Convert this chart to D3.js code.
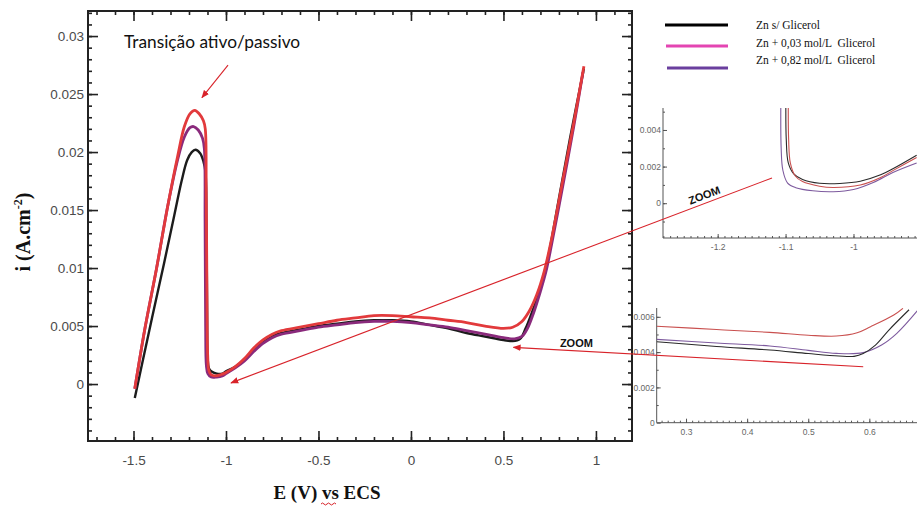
<!DOCTYPE html>
<html>
<head>
<meta charset="utf-8">
<script src="https://cdn.jsdelivr.net/npm/d3@7"></script>
<style>
  body { margin: 0; background: #fff; }
  svg { display: block; }
</style>
</head>
<body>
<svg width="917" height="506"></svg>
<script>
// --- data: [E (V), i (A/cm2)]
const semGlicerol = [[-1.493,-0.0012],[-1.45,0.0020],[-1.40,0.0057],[-1.335,0.0104],[-1.28,0.0145],[-1.24,0.0175],[-1.21,0.0193],[-1.185,0.0200],[-1.165,0.0202],[-1.14,0.0199],[-1.122,0.0192],[-1.111,0.0183],[-1.106,0.0140],[-1.102,0.0060],[-1.099,0.0022],[-1.093,0.0014],[-1.08,0.0011],[-1.05,0.0009],[-1.02,0.0009],[-1.0,0.0011],[-0.95,0.0015],[-0.9,0.0021],[-0.85,0.0029],[-0.8,0.0036],[-0.75,0.0041],[-0.7,0.0044],[-0.6,0.0047],[-0.5,0.0050],[-0.4,0.0052],[-0.3,0.0054],[-0.2,0.0055],[-0.1,0.0055],[0,0.0054],[0.1,0.0051],[0.2,0.0048],[0.3,0.0044],[0.4,0.0041],[0.5,0.0038],[0.55,0.0037],[0.59,0.0039],[0.62,0.0048],[0.65,0.0060],[0.69,0.0078],[0.72,0.0095],[0.745,0.0112],[0.80,0.0160],[0.86,0.0212],[0.935,0.0272]];
const glicerol003 = [[-1.493,-0.0004],[-1.438,0.0048],[-1.375,0.0100],[-1.319,0.0150],[-1.262,0.0196],[-1.225,0.0222],[-1.195,0.0233],[-1.168,0.0236],[-1.145,0.0233],[-1.122,0.0227],[-1.112,0.0220],[-1.107,0.0170],[-1.103,0.0080],[-1.099,0.0025],[-1.093,0.0012],[-1.08,0.0008],[-1.06,0.0007],[-1.03,0.0008],[-1.0,0.0010],[-0.95,0.0015],[-0.9,0.0022],[-0.85,0.0031],[-0.8,0.0038],[-0.75,0.0043],[-0.7,0.0046],[-0.6,0.0049],[-0.5,0.0052],[-0.4,0.0055],[-0.3,0.0057],[-0.2,0.0059],[-0.1,0.0059],[0,0.0058],[0.1,0.0057],[0.2,0.0055],[0.3,0.0053],[0.4,0.0050],[0.5,0.0048],[0.55,0.0049],[0.6,0.0054],[0.64,0.0063],[0.68,0.0077],[0.72,0.0097],[0.76,0.0125],[0.82,0.0175],[0.88,0.0225],[0.935,0.0274]];
const glicerol082 = [[-1.493,-0.0004],[-1.438,0.0048],[-1.375,0.0100],[-1.319,0.0150],[-1.262,0.0193],[-1.225,0.0213],[-1.195,0.0221],[-1.175,0.0222],[-1.15,0.0219],[-1.127,0.0212],[-1.117,0.0203],[-1.113,0.0140],[-1.110,0.0050],[-1.106,0.0016],[-1.098,0.0009],[-1.08,0.0006],[-1.05,0.0006],[-1.02,0.0007],[-1.0,0.0009],[-0.95,0.0014],[-0.9,0.0020],[-0.85,0.0028],[-0.8,0.0035],[-0.75,0.0040],[-0.7,0.0043],[-0.6,0.0046],[-0.5,0.0049],[-0.4,0.0051],[-0.3,0.0053],[-0.2,0.0054],[-0.1,0.0054],[0,0.0053],[0.1,0.0051],[0.2,0.0049],[0.3,0.0046],[0.4,0.0043],[0.5,0.0040],[0.56,0.0039],[0.6,0.0041],[0.63,0.0048],[0.66,0.0060],[0.70,0.0080],[0.73,0.0097],[0.76,0.0120],[0.82,0.0170],[0.88,0.0222],[0.93,0.0269]];

// zoom 1: around the active/passive transition
const zoomA_sem = [[-1.0996,0.0056],[-1.099,0.0035],[-1.096,0.0022],[-1.088,0.0016],[-1.075,0.0013],[-1.05,0.00109],[-1.02,0.00108],[-0.99,0.0012],[-0.96,0.00155],[-0.942,0.00188],[-0.907,0.00262]];
const zoomA_003 = [[-1.096,0.0056],[-1.0955,0.0035],[-1.093,0.0022],[-1.086,0.0015],[-1.075,0.00118],[-1.05,0.00093],[-1.03,0.00086],[-0.99,0.00099],[-0.96,0.0014],[-0.942,0.00178],[-0.907,0.0025]];
const zoomA_082 = [[-1.107,0.0056],[-1.1065,0.003],[-1.104,0.0018],[-1.097,0.0011],[-1.085,0.00085],[-1.06,0.00068],[-1.03,0.00063],[-1.0,0.00075],[-0.97,0.00115],[-0.942,0.00168],[-0.907,0.0022]];

// zoom 2: end of the passive plateau
const zoomB_sem = [[0.252,0.00459],[0.35,0.00432],[0.437,0.00412],[0.50,0.00392],[0.55,0.00378],[0.575,0.00376],[0.59,0.00392],[0.61,0.0044],[0.632,0.00525],[0.665,0.0064]];
const zoomB_003 = [[0.252,0.00547],[0.35,0.00528],[0.437,0.00512],[0.50,0.00496],[0.546,0.00491],[0.58,0.0051],[0.602,0.00544],[0.64,0.0061],[0.655,0.00648]];
const zoomB_082 = [[0.252,0.00472],[0.35,0.00452],[0.437,0.00435],[0.50,0.0041],[0.546,0.00393],[0.59,0.00397],[0.62,0.0044],[0.645,0.00506],[0.68,0.0064]];

const xTicksMain = [-1.5, -1, -0.5, 0, 0.5, 1];
const yTicksMain = [0, 0.005, 0.01, 0.015, 0.02, 0.025, 0.03];
const yTickLabels = ['0', '0.005', '0.01', '0.015', '0.02', '0.025', '0.03'];
const xTicksZoomA = [-1.2, -1.1, -1];
const yTicksZoomA = [0, 0.002, 0.004];
const xTicksZoomB = [0.3, 0.4, 0.5, 0.6];
const yTicksZoomB = [0, 0.002, 0.004, 0.006];
const legendLabels = ['Zn s/ Glicerol', 'Zn + 0,03 mol/L  Glicerol', 'Zn + 0,82 mol/L  Glicerol'];

// arrows: [from, to] in data units of each panel
const annotText = 'Transição ativo/passivo';
const arrowPeak = [[-0.989, 0.0275], [-1.13, 0.0247]];
const arrowZoomA = [[-1.120, 0.00138], [-0.973, 0.0001]];
const arrowZoomB = [[0.590, 0.00317], [0.554, 0.00316]];

const svg = d3.select('svg');
const red = '#d8232a';
const fmt = d => String(d); // plain hyphen minus, like the original

svg.append('defs').append('marker')
  .attr('id', 'head')
  .attr('markerUnits', 'userSpaceOnUse')
  .attr('viewBox', '0 0 10 10')
  .attr('refX', 9).attr('refY', 5)
  .attr('markerWidth', 8).attr('markerHeight', 8)
  .attr('orient', 'auto')
  .append('path').attr('d', 'M0,1 L10,5 L0,9 z').attr('fill', red);

const clip = (id, x, y, w, h) => svg.select('defs').append('clipPath').attr('id', id)
  .append('rect').attr('x', x).attr('y', y).attr('width', w).attr('height', h);

// ---------- main chart
const x = d3.scaleLinear().domain([-1.746, 1.195]).range([88, 632]);
const y = d3.scaleLinear().domain([-0.00491, 0.03216]).range([441, 11]);
const minorX = d3.range(-1.7, 1.15, 0.1).map(v => +v.toFixed(2));
const minorY = d3.range(-0.004, 0.0321, 0.001).map(v => +v.toFixed(4));

const line = d3.line().x(d => x(d[0])).y(d => y(d[1])).curve(d3.curveCatmullRom.alpha(0.5));

const main = svg.append('g');

const axStyle = g => {
  g.select('.domain').remove();
  g.selectAll('line').attr('stroke', '#222').attr('stroke-width', 1.6);
  g.selectAll('text').attr('fill', '#4a4a4a').attr('font-family', 'Liberation Sans, Arial, sans-serif').attr('font-size', 13.5);
};

// bottom
const gb = main.append('g').attr('transform', 'translate(0,441)');
gb.append('g').call(d3.axisBottom(x).tickValues(minorX).tickSize(-4).tickFormat('')).call(axStyle);
gb.append('g').call(d3.axisBottom(x).tickValues(xTicksMain).tickSize(-10).tickPadding(14).tickFormat(fmt)).call(axStyle);
// top
const gt = main.append('g').attr('transform', 'translate(0,11)');
gt.append('g').call(d3.axisTop(x).tickValues(minorX).tickSize(-4).tickFormat('')).call(axStyle);
gt.append('g').call(d3.axisTop(x).tickValues(xTicksMain).tickSize(-10).tickFormat('')).call(axStyle);
// left
const gl = main.append('g').attr('transform', 'translate(88,0)');
gl.append('g').call(d3.axisLeft(y).tickValues(minorY).tickSize(-4).tickFormat('')).call(axStyle);
gl.append('g').call(d3.axisLeft(y).tickValues(yTicksMain).tickSize(-10).tickPadding(4)
  .tickFormat((d, i) => yTickLabels[i])).call(axStyle);
// right
const gr = main.append('g').attr('transform', 'translate(632,0)');
gr.append('g').call(d3.axisRight(y).tickValues(minorY).tickSize(-4).tickFormat('')).call(axStyle);
gr.append('g').call(d3.axisRight(y).tickValues(yTicksMain).tickSize(-10).tickFormat('')).call(axStyle);

main.append('rect').attr('x', 88).attr('y', 11).attr('width', 544).attr('height', 430)
  .attr('fill', 'none').attr('stroke', '#222').attr('stroke-width', 2);

const mainSeries = [
  { d: semGlicerol, c: '#1c1c1c', w: 2.4 },
  { d: glicerol082, c: '#8a2a7c', w: 2.8 },
  { d: glicerol003, c: '#e23a3c', w: 2.8 }
];
main.selectAll('path.curve').data(mainSeries).enter().append('path')
  .attr('class', 'curve')
  .attr('d', s => line(s.d))
  .attr('fill', 'none')
  .attr('stroke', s => s.c)
  .attr('stroke-width', s => s.w)
  .attr('stroke-linejoin', 'round');

// axis titles
svg.append('text')
  .attr('x', 327).attr('y', 499)
  .attr('text-anchor', 'middle')
  .attr('font-family', 'Liberation Serif, Times New Roman, serif')
  .attr('font-weight', 'bold').attr('font-size', 19).attr('fill', '#111')
  .text('E (V) vs ECS');
svg.append('path')
  .attr('d', 'M321,504 q1.5,-2 3,0 t3,0 t3,0 t3,0 t3,0')
  .attr('fill', 'none').attr('stroke', red).attr('stroke-width', 1);

const yt = svg.append('text')
  .attr('transform', 'translate(30,232) rotate(-90)')
  .attr('text-anchor', 'middle')
  .attr('font-family', 'Liberation Serif, Times New Roman, serif')
  .attr('font-weight', 'bold').attr('font-size', 20).attr('fill', '#111');
yt.append('tspan').text('i (A.cm');
yt.append('tspan').attr('font-size', 12).attr('dy', -8).text('-2');
yt.append('tspan').attr('dy', 8).text(')');

// annotation
svg.append('text')
  .attr('x', 124).attr('y', 48)
  .attr('font-family', 'Lato, Open Sans, sans-serif').attr('font-size', 17.3).attr('fill', '#111')
  .text(annotText);
svg.append('line')
  .attr('x1', x(arrowPeak[0][0])).attr('y1', y(arrowPeak[0][1]))
  .attr('x2', x(arrowPeak[1][0])).attr('y2', y(arrowPeak[1][1]))
  .attr('stroke', red).attr('stroke-width', 1.1).attr('marker-end', 'url(#head)');

// ---------- legend
const lg = svg.append('g');
const legendColors = ['#000', '#e445b2', '#6a3f9e'];
const legendLineY = [25, 46, 68];
lg.selectAll('line').data(legendLabels).enter().append('line')
  .attr('x1', (d, i) => 665 + i).attr('x2', 728)
  .attr('y1', (d, i) => legendLineY[i]).attr('y2', (d, i) => legendLineY[i])
  .attr('stroke', (d, i) => legendColors[i]).attr('stroke-width', 3);
lg.selectAll('text').data(legendLabels).enter().append('text')
  .attr('x', 756).attr('y', (d, i) => 29 + i * 17.5)
  .attr('font-family', 'Liberation Serif, Times New Roman, serif').attr('font-size', 11.5)
  .attr('fill', '#111').style('white-space', 'pre')
  .text(d => d);

// ---------- inset helper
function inset(opt) {
  const sx = d3.scaleLinear().domain(opt.xd).range(opt.xr);
  const sy = d3.scaleLinear().domain(opt.yd).range(opt.yr);
  const g = svg.append('g');
  const st = a => {
    a.select('.domain').remove();
    a.selectAll('line').attr('stroke', '#555').attr('stroke-width', 1);
    a.selectAll('text').attr('fill', '#666').attr('font-family', 'Liberation Sans, Arial, sans-serif').attr('font-size', 8.5);
  };
  const bx = g.append('g').attr('transform', `translate(0,${opt.yr[0]})`);
  bx.append('g').call(d3.axisBottom(sx).tickValues(opt.minorX).tickSize(-2).tickFormat('')).call(st);
  bx.append('g').call(d3.axisBottom(sx).tickValues(opt.xt).tickSize(-4).tickPadding(6).tickFormat(fmt)).call(st);
  const by = g.append('g').attr('transform', `translate(${opt.xr[0]},0)`);
  by.append('g').call(d3.axisLeft(sy).tickValues(opt.minorY).tickSize(-2).tickFormat('')).call(st);
  by.append('g').call(d3.axisLeft(sy).tickValues(opt.yt).tickSize(-4).tickPadding(2).tickFormat(fmt)).call(st);
  g.append('path').attr('d', `M${opt.xr[0]},${opt.yr[1]}V${opt.yr[0]}H${opt.xr[1]}`)
    .attr('fill', 'none').attr('stroke', '#555').attr('stroke-width', 1);
  clip(opt.id, opt.xr[0], opt.yr[1], opt.xr[1] - opt.xr[0], opt.yr[0] - opt.yr[1]);
  const ln = d3.line().x(d => sx(d[0])).y(d => sy(d[1])).curve(d3.curveCatmullRom.alpha(0.5));
  g.append('g').attr('clip-path', `url(#${opt.id})`)
    .selectAll('path').data(opt.series).enter().append('path')
    .attr('d', s => ln(s.d)).attr('fill', 'none')
    .attr('stroke', s => s.c).attr('stroke-width', 1.1);
  return { sx, sy };
}

const zA = inset({
  id: 'clipA', xd: [-1.2805, -0.905], xr: [663, 918], yd: [-0.0019, 0.0052], yr: [238, 108],
  xt: xTicksZoomA, yt: yTicksZoomA,
  minorX: d3.range(-1.28, -0.9, 0.01).map(v => +v.toFixed(3)),
  minorY: d3.range(-0.001, 0.0052, 0.001).map(v => +v.toFixed(4)),
  series: [{ d: zoomA_082, c: '#7d5a9e' }, { d: zoomA_sem, c: '#2a2a2a' }, { d: zoomA_003, c: '#c9504f' }]
});
const zB = inset({
  id: 'clipB', xd: [0.252, 0.678], xr: [656.7, 917], yd: [0, 0.0065], yr: [422.7, 308],
  xt: xTicksZoomB, yt: yTicksZoomB,
  minorX: d3.range(0.26, 0.68, 0.01).map(v => +v.toFixed(3)),
  minorY: d3.range(0.001, 0.0066, 0.001).map(v => +v.toFixed(4)),
  series: [{ d: zoomB_082, c: '#7d5a9e' }, { d: zoomB_sem, c: '#2a2a2a' }, { d: zoomB_003, c: '#c9504f' }]
});

// zoom arrows
const zoomArrows = [
  { from: [zA.sx(arrowZoomA[0][0]), zA.sy(arrowZoomA[0][1])], to: [x(arrowZoomA[1][0]), y(arrowZoomA[1][1])] },
  { from: [zB.sx(arrowZoomB[0][0]), zB.sy(arrowZoomB[0][1])], to: [x(arrowZoomB[1][0]), y(arrowZoomB[1][1])] }
];
svg.selectAll('line.zoom').data(zoomArrows).enter().append('line')
  .attr('class', 'zoom')
  .attr('x1', d => d.from[0]).attr('y1', d => d.from[1])
  .attr('x2', d => d.to[0]).attr('y2', d => d.to[1])
  .attr('stroke', red).attr('stroke-width', 1.1).attr('marker-end', 'url(#head)');

// ZOOM labels sitting on the arrows
zoomArrows.forEach((a, i) => {
  const t = i === 0 ? 0.12 : 0.82;
  const px = a.from[0] + (a.to[0] - a.from[0]) * t;
  const py = a.from[1] + (a.to[1] - a.from[1]) * t;
  const ang = i === 0 ? Math.atan2(a.from[1] - a.to[1], a.from[0] - a.to[0]) * 180 / Math.PI : 0;
  svg.append('text')
    .attr('transform', `translate(${px},${py}) rotate(${ang}) translate(0,-4)`)
    .attr('text-anchor', 'middle')
    .attr('font-family', 'Liberation Sans, Arial, sans-serif').attr('font-weight', 'bold')
    .attr('font-size', 11).attr('fill', '#111')
    .text('ZOOM');
});
</script>
</body>
</html>
